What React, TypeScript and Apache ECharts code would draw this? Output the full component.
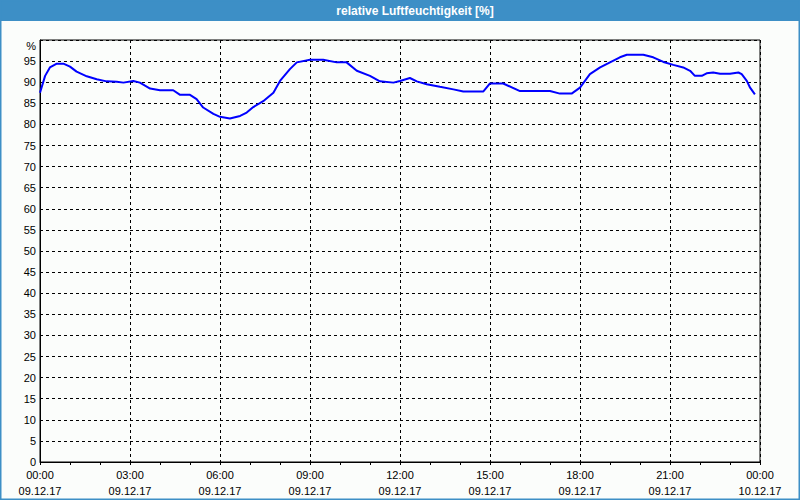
import React, { useEffect, useRef } from "react";
import * as echarts from "echarts";

const titleText = "relative Luftfeuchtigkeit [%]";
const yUnitLabel = "%";

// time in hours since 09.12.17 00:00
const timeHours = [
  0, 0.17, 0.33, 0.56, 0.78, 1.0, 1.22, 1.56, 1.89, 2.22, 2.56, 2.78, 3.11, 3.33, 3.67, 4.0,
  4.44, 4.67, 5.0, 5.22, 5.44, 5.78, 6.0, 6.33, 6.67, 6.89, 7.11, 7.44, 7.78, 8.0, 8.33, 8.56,
  9.0, 9.44, 9.89, 10.22, 10.56, 11.0, 11.33, 11.78, 12.0, 12.33, 12.56, 12.89, 13.33, 13.78,
  14.11, 14.78, 15.0, 15.44, 16.0, 17.0, 17.33, 17.72, 18.0, 18.33, 18.67, 19.0, 19.33, 19.56,
  20.11, 20.44, 20.78, 21.11, 21.44, 21.67, 21.83, 22.06, 22.22, 22.44, 22.67, 23.0, 23.28,
  23.39, 23.56, 23.67, 23.83,
];
const humidity = [
  87.5, 91.5, 93.5, 94.4, 94.4, 93.7, 92.5, 91.4, 90.7, 90.2, 90.1, 89.9, 90.3, 89.9, 88.5, 88.1,
  88.1, 87.0, 87.0, 86.0, 84.0, 82.5, 81.8, 81.4, 82.0, 82.8, 84.1, 85.5, 87.5, 90.3, 93.1, 94.7,
  95.3, 95.3, 94.7, 94.7, 92.7, 91.5, 90.2, 89.9, 90.3, 91.0, 90.2, 89.5, 88.9, 88.3,
  87.8, 87.8, 89.7, 89.7, 87.9, 87.9, 87.3, 87.3, 88.7, 91.9, 93.5, 94.7, 95.9, 96.5,
  96.5, 95.9, 94.8, 94.1, 93.5, 92.7, 91.5, 91.5, 92.1, 92.3, 92.0, 92.0, 92.3,
  91.9, 90.3, 88.7, 87.1,
];

const xTickTimes = ["00:00", "03:00", "06:00", "09:00", "12:00", "15:00", "18:00", "21:00", "00:00"];
const xTickDates = ["09.12.17", "09.12.17", "09.12.17", "09.12.17", "09.12.17", "09.12.17", "09.12.17", "09.12.17", "10.12.17"];

const FONT = "'Liberation Sans', Arial, sans-serif";
const BLUE = "#3d8fc6";

export default function App() {
  const ref = useRef<HTMLDivElement>(null);
  useEffect(() => {
    if (!ref.current) return;
    const chart = echarts.init(ref.current, null, { renderer: "svg" });
    const data = timeHours.map((t, i) => [t, humidity[i]]);
    chart.setOption({
      animation: false,
      backgroundColor: "#fbfdfb",
      textStyle: { fontFamily: FONT },
      graphic: [
        { type: "rect", shape: { x: 0, y: 0, width: 800, height: 21 }, style: { fill: BLUE }, z: 10 },
        {
          type: "rect",
          shape: { x: 0, y: 0, width: 800, height: 500 },
          style: { fill: "none", stroke: BLUE, lineWidth: 3 },
          z: 10,
        },
        {
          type: "text",
          x: 415,
          y: 11,
          style: {
            text: titleText,
            fill: "#ffffff",
            font: `bold 12px ${FONT}`,
            align: "center",
            verticalAlign: "middle",
          },
          z: 11,
        },
        {
          type: "text",
          x: 36,
          y: 46,
          style: {
            text: yUnitLabel,
            fill: "#000",
            font: `11px ${FONT}`,
            align: "right",
            verticalAlign: "middle",
          },
        },
      ],
      grid: {
        left: 40,
        top: 40,
        right: 40,
        bottom: 38,
        show: true,
        borderColor: "#000",
        borderWidth: 1,
        backgroundColor: "transparent",
      },
      xAxis: {
        type: "value",
        min: 0,
        max: 24,
        interval: 3,
        axisLine: { show: true, lineStyle: { color: "#000", width: 1 } },
        axisTick: { show: true, inside: false, length: 3, lineStyle: { color: "#000" } },
        minorTick: { show: true, splitNumber: 3, length: 3, lineStyle: { color: "#000" } },
        splitLine: { show: true, lineStyle: { color: "#000", type: [3, 3], width: 1 } },
        axisLabel: {
          color: "#000",
          fontSize: 11,
          fontFamily: FONT,
          lineHeight: 16,
          margin: 5,
          formatter: (v: number) => {
            const i = Math.round(v / 3);
            return `${xTickTimes[i]}\n${xTickDates[i]}`;
          },
        },
      },
      yAxis: {
        type: "value",
        min: 0,
        max: 100,
        interval: 5,
        axisLine: { show: true, lineStyle: { color: "#000", width: 1 } },
        axisTick: { show: false },
        splitLine: { show: true, lineStyle: { color: "#000", type: [3, 3], width: 1 } },
        axisLabel: {
          color: "#000",
          fontSize: 11,
          fontFamily: FONT,
          margin: 4,
          formatter: (v: number) => (v === 100 ? "" : String(v)),
        },
      },
      series: [
        {
          type: "line",
          data,
          showSymbol: false,
          smooth: false,
          lineStyle: { color: "#0000ff", width: 2 },
          itemStyle: { color: "#0000ff" },
        },
      ],
    });
    return () => chart.dispose();
  }, []);
  return (
    <div
      ref={ref}
      style={{ position: "fixed", left: 0, top: 0, width: 800, height: 500 }}
    />
  );
}
